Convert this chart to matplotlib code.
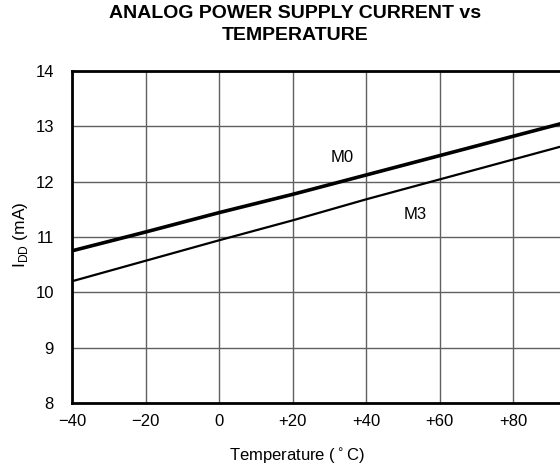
import matplotlib.pyplot as plt

plt.rcParams['font.family'] = ['Liberation Sans', 'DejaVu Sans']

# temperature (deg C)
temp = [-40, -20, 0, 20, 40, 60, 80, 100]
# supply current (mA)
m0 = [10.75, 11.09, 11.44, 11.77, 12.12, 12.47, 12.82, 13.17]
m3 = [10.20, 10.57, 10.94, 11.30, 11.68, 12.04, 12.40, 12.76]

xticks = [-40, -20, 0, 20, 40, 60, 80]
xlabels = ["\u221240", "\u221220", "0", "+20", "+40", "+60", "+80"]
yticks = [8, 9, 10, 11, 12, 13, 14]

fig = plt.figure(figsize=(5.6, 4.72), dpi=100)
# axes runs past the right edge of the picture (to +100)
ax = fig.add_axes([72 / 560, 1 - 403 / 472, (586.5 - 72) / 560, (403 - 71) / 472])

ax.plot(temp, m0, color="black", lw=2.6)
ax.plot(temp, m3, color="black", lw=1.6)

ax.text(33.5, 12.44, "M0", fontsize=12, ha="center", va="center")
ax.text(53.3, 11.41, "M3", fontsize=12, ha="center", va="center")

ax.set_xlim(-40, 100)
ax.set_ylim(8, 14)
ax.set_xticks(xticks)
ax.set_xticklabels(xlabels)
ax.set_yticks(yticks)
ax.tick_params(length=0, labelsize=12, pad=8)
ax.tick_params(axis="y", pad=13)
ax.grid(color="#606060", lw=1.0)
for s in ["left", "bottom", "top"]:
    ax.spines[s].set_linewidth(2)
ax.spines["right"].set_visible(False)

fig.text(295 / 560, 1 - 14 / 472, "ANALOG POWER SUPPLY CURRENT vs", fontsize=14,
         fontweight="bold", ha="center", va="center")
fig.text(295 / 560, 1 - 35 / 472, "TEMPERATURE", fontsize=14,
         fontweight="bold", ha="center", va="center")
fig.text(297 / 560, 1 - 456 / 472, "Temperature ($^\\circ$C)", fontsize=12,
         ha="center", va="center")
fig.text(20 / 560, 1 - 235 / 472, "I$_\\mathregular{DD}$ (mA)", fontsize=12.5,
         ha="center", va="center", rotation=90)

fig.savefig("out.png", dpi=100)
